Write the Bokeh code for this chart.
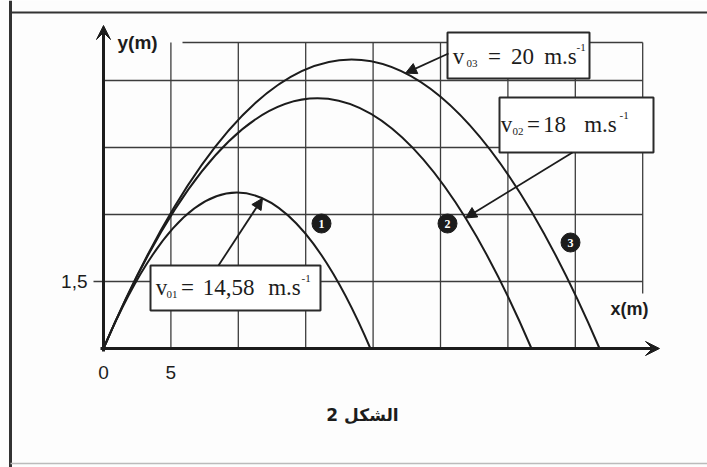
from bokeh.plotting import figure
from bokeh.models import Range1d, Arrow, VeeHead, NormalHead
from bokeh.core.properties import value
from bokeh.embed import file_html
from bokeh.resources import INLINE

# Trajectories: launch speed label, horizontal range (m) and peak height (m)
speed_labels = ["14,58", "18", "20"]
speed_index = ["01", "02", "03"]
ranges_m = [19.8, 31.75, 36.8]
peaks_m = [3.49, 5.6, 6.47]

# Graduations
x_grid = [5, 10, 15, 20, 25, 30, 35]
y_grid = [1.5, 3.0, 4.5, 6.0]
x_tick_vals = [0, 5]
x_tick_labels = ["0", "5"]
y_tick_vals = [1.5]
y_tick_labels = ["1,5"]
x_max = 40
y_top = 6.85

# Layout: page pixels <-> data units
W, H = 707, 467
OX, OY = 103, 348          # origin on the page
SX, SY = 13.48, 44.67      # pixels per metre


def dx(px):
    return (px - OX) / SX


def dy(py):
    return (OY - py) / SY


INK = "#1c1c1c"
GRID = "#3c3c3c"
SERIF = value("Liberation Serif")
SANS = value("Liberation Sans")

p = figure(width=W, height=H, x_range=Range1d(dx(0), dx(W)), y_range=Range1d(dy(H), dy(0)),
           min_border=0, toolbar_location=None, output_backend="svg")
p.axis.visible = False
p.grid.visible = False
p.outline_line_color = None
p.background_fill_color = "#fdfdfd"
p.border_fill_color = "#fdfdfd"

# page frame
p.line([dx(10), dx(10)], [dy(0), dy(H)], line_color="#333333", line_width=3)
p.line([dx(10), dx(W)], [dy(12), dy(12)], line_color="#333333", line_width=2)
p.line([dx(10), dx(W)], [dy(463), dy(463)], line_color="#bbbbbb", line_width=1.5)

# grid
p.segment(x0=x_grid, y0=[0] * len(x_grid), x1=x_grid, y1=[y_top] * len(x_grid),
          line_color=GRID, line_width=1.3)
p.segment(x0=[0] * len(y_grid), y0=y_grid, x1=[x_max] * len(y_grid), y1=y_grid,
          line_color=GRID, line_width=1.3)
p.segment(x0=[dx(182)], y0=[y_top], x1=[x_max], y1=[y_top], line_color=GRID, line_width=1.6)
p.segment(x0=[x_max], y0=[y_top], x1=[x_max], y1=[dy(293)], line_color=GRID, line_width=1.3)
p.segment(x0=[dx(93)] * len(y_tick_vals), y0=y_tick_vals, x1=[0] * len(y_tick_vals), y1=y_tick_vals,
          line_color=GRID, line_width=1.3)

# trajectories: parabolas as quadratic curves (control point at half range, twice the peak)
p.quadratic(x0=[0] * 3, y0=[0] * 3, x1=ranges_m, y1=[0] * 3,
            cx=[r / 2 for r in ranges_m], cy=[2 * h for h in peaks_m],
            line_color=INK, line_width=2)

# axes with arrowheads
p.add_layout(Arrow(x_start=0, y_start=dy(351), x_end=0, y_end=dy(25), line_color=INK, line_width=3,
                   end=VeeHead(size=14, fill_color=INK, line_color=INK)))
p.add_layout(Arrow(x_start=dx(100), y_start=0, x_end=dx(659), y_end=0, line_color=INK, line_width=3,
                   end=VeeHead(size=14, fill_color=INK, line_color=INK)))

# axis texts
p.text(x=[dx(117)], y=[dy(42)], text=["y(m)"], text_font=SANS, text_font_style="bold",
       text_font_size="19px", text_baseline="middle", text_color=INK)
p.text(x=[dx(610)], y=[dy(308)], text=["x(m)"], text_font=SANS, text_font_style="bold",
       text_font_size="18px", text_baseline="middle", text_color=INK)
p.text(x=x_tick_vals, y=[dy(372)] * len(x_tick_vals), text=x_tick_labels, text_font=SANS,
       text_font_size="19px", text_align="center", text_baseline="middle", text_color=INK)
p.text(x=[dx(87)] * len(y_tick_vals), y=y_tick_vals, text=y_tick_labels, text_font=SANS,
       text_font_size="19px", text_align="right", text_baseline="middle", text_color=INK)

# curve numbers
num_x = [dx(321), dx(447), dx(570)]
num_y = [dy(223), dy(223), dy(242)]
p.scatter(num_x, num_y, size=19, fill_color=INK, line_color=INK)
p.text(x=num_x, y=num_y, text=["1", "2", "3"], text_font=SERIF, text_font_style="bold",
       text_font_size="12px", text_align="center", text_baseline="middle", text_color="white")


def speed_box(i, frame, ty, pos, start, tip_x):
    """White framed label 'v0i = ... m.s-1' with an arrow pointing to trajectory i."""
    left, top, right, bottom = frame
    r, h = ranges_m[i], peaks_m[i]
    tip_y = 4 * h * tip_x * (r - tip_x) / r ** 2
    p.add_layout(Arrow(x_start=dx(start[0]), y_start=dy(start[1]), x_end=tip_x, y_end=tip_y,
                       line_color=INK, line_width=1.8,
                       end=NormalHead(size=11, fill_color=INK, line_color=INK)))
    p.quad(left=[dx(left)], right=[dx(right)], top=[dy(top)], bottom=[dy(bottom)],
           fill_color="white", line_color="#2a2a2a", line_width=2)
    big = dict(text_font=SERIF, text_font_size="23px", text_baseline="middle",
               text_align="center", text_color=INK)
    small = dict(text_font=SERIF, text_font_size="11px", text_baseline="middle", text_color=INK)
    p.text(x=[dx(pos[0])], y=[dy(ty)], text=["v"], **big)
    p.text(x=[dx(pos[1])], y=[dy(ty + 7)], text=[speed_index[i]], **small)
    p.text(x=[dx(pos[2])], y=[dy(ty)], text=["="], **big)
    p.text(x=[dx(pos[3])], y=[dy(ty)], text=[speed_labels[i]], **big)
    p.text(x=[dx(pos[4])], y=[dy(ty)], text=["m.s"], **big)
    p.text(x=[dx(pos[5])], y=[dy(ty - 9)], text=["-1"], **small)


speed_box(2, (447, 32, 589, 78), 56, (458, 466, 494, 522, 560, 576), (448, 53), dx(405))
speed_box(1, (499, 97, 653, 152), 124, (506, 512, 533, 554, 600, 619), (572, 152), dx(465))
speed_box(0, (150, 265, 320, 310), 287, (161, 166, 187, 228, 284, 301), (218, 265), dx(262))

# caption
p.text(x=[dx(362)], y=[dy(414)], text=["الشكل 2"], text_font=value("DejaVu Sans"),
       text_font_style="bold", text_font_size="17px", text_align="center", text_baseline="middle",
       text_color=INK)

open("out.html", "w").write(file_html(p, INLINE))
